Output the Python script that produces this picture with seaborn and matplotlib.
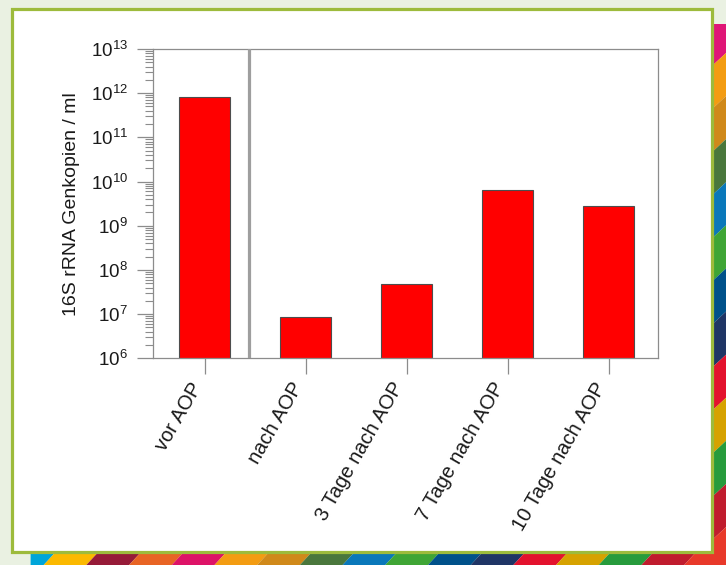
import matplotlib
matplotlib.use("Agg")
import matplotlib.pyplot as plt
import matplotlib.transforms as mtransforms
from matplotlib.patches import Rectangle, Polygon
from matplotlib.ticker import LogLocator, LogFormatterSciNotation, NullFormatter
import seaborn as sns
import pandas as pd

# ---- data ----
categories = ["vor AOP", "nach AOP", "3 Tage nach AOP", "7 Tage nach AOP", "10 Tage nach AOP"]
gene_copies = [8.2e11, 8.6e6, 4.9e7, 6.5e9, 2.8e9]
y_label = "16S rRNA Genkopien / ml"

# ---- decoration styles (slide frame) ----
right_strip_colors = ["#df1677", "#f39c12", "#d0891a", "#4a773c", "#0a78ba", "#3fa535",
                      "#00518a", "#1f3565", "#e3122d", "#d6a200", "#279b3c", "#c01c2e", "#e8392a"]
bottom_strip_colors = ["#00a5d9", "#fbb900", "#961b38", "#e86424", "#dd1367", "#f39c12",
                       "#d0891a", "#4a773c", "#0a78ba", "#3fa535", "#00518a", "#1f3565",
                       "#e3122d", "#d6a200", "#279b3c", "#c01c2e", "#e8392a"]

sns.set_theme(style="white")
plt.rcParams["font.family"] = ["Liberation Sans", "DejaVu Sans"]
plt.rcParams["mathtext.fontset"] = "custom"
plt.rcParams["mathtext.rm"] = "Liberation Sans"
plt.rcParams["mathtext.it"] = "Liberation Sans:italic"
plt.rcParams["mathtext.bf"] = "Liberation Sans:bold"

W, H = 726, 565
fig = plt.figure(figsize=(W / 100, H / 100), dpi=100, facecolor="#eaf1e2")

# background / frame layer in pixel coordinates
bg = fig.add_axes([0, 0, 1, 1], zorder=0)
bg.set_xlim(0, W)
bg.set_ylim(H, 0)
bg.axis("off")

# right strip
x0, x1 = 712, W
ystart, step, slant = 24, 43.1, 6.5
bounds = [ystart] + [59.5 + step * k for k in range(12)] + [H + 20]
for i, c in enumerate(right_strip_colors):
    ya, yb = bounds[i], bounds[i + 1]
    if i == 0:
        pts = [(x0, ya), (x1, ya), (x1, yb - slant), (x0, yb + slant)]
    else:
        pts = [(x0, ya + slant), (x1, ya - slant), (x1, yb - slant), (x0, yb + slant)]
    bg.add_patch(Polygon(pts, closed=True, facecolor=c, edgecolor="none"))

# bottom strip
y0, y1 = 552, H
bstep = 42.7
xb = [30.6] + [49.7 + bstep * k for k in range(16)] + [W + 30]
for i, c in enumerate(bottom_strip_colors):
    xa, xe = xb[i], xb[i + 1]
    if i == 0:
        pts = [(xa, y0), (xe + 6, y0), (xe - 6, y1), (xa, y1)]
    else:
        pts = [(xa + 6, y0), (xe + 6, y0), (xe - 6, y1), (xa - 6, y1)]
    bg.add_patch(Polygon(pts, closed=True, facecolor=c, edgecolor="none"))

# white panel with green border
bg.add_patch(Rectangle((11.5, 8.5), 700, 543, facecolor="white",
                       edgecolor="#9dbb3c", linewidth=2.3))

# ---- chart ----
left, right, top, bottom = 153, 658, 49, 358.3
ax = fig.add_axes([left / W, 1 - bottom / H, (right - left) / W, (bottom - top) / H], zorder=2)
ax.set_facecolor("white")

df = pd.DataFrame({"cat": categories, "val": gene_copies})
sns.barplot(data=df, x="cat", y="val", color="#ff0000", saturation=1, width=0.5,
            edgecolor="#4d4d4d", linewidth=0.8, ax=ax)
ax.set_yscale("log")
ax.set_ylim(1e6, 1e13)
ax.set_xlim(-0.51, 4.49)

ax.yaxis.set_major_locator(LogLocator(base=10, numticks=20))
ax.yaxis.set_major_formatter(LogFormatterSciNotation())
ax.yaxis.set_minor_locator(LogLocator(base=10, subs=[2, 3, 4, 5, 6, 7, 8, 9], numticks=40))
ax.yaxis.set_minor_formatter(NullFormatter())

spine_col = "#8c8c8c"
for s in ax.spines.values():
    s.set_color(spine_col)
    s.set_linewidth(0.9)
    s.set_visible(True)

ax.axvline(0.44, color="#9e9e9e", linewidth=2.3, zorder=3)

ax.tick_params(axis="y", which="major", direction="out", length=11.5, width=0.9,
               color=spine_col, labelsize=13.5, labelcolor="#1a1a1a", pad=6.5, left=True)
ax.tick_params(axis="y", which="minor", direction="out", length=5.8, width=0.8,
               color=spine_col, left=True)
ax.tick_params(axis="x", which="major", direction="out", length=11.5, width=0.9,
               color=spine_col, labelsize=14.5, labelcolor="#1a1a1a", pad=7, bottom=True)

ax.set_xlabel("")
ax.set_ylabel(y_label, fontsize=14, color="#1a1a1a")
ax.yaxis.set_label_coords(-0.1446, 0.5)

offset = mtransforms.ScaledTranslation(-7 / 100, 0, fig.dpi_scale_trans)
for lab in ax.get_xticklabels():
    lab.set_rotation(60)
    lab.set_ha("right")
    lab.set_va("center")
    lab.set_rotation_mode("anchor")
    lab.set_transform(lab.get_transform() + offset)

fig.savefig("out.png", dpi=100, facecolor=fig.get_facecolor())
